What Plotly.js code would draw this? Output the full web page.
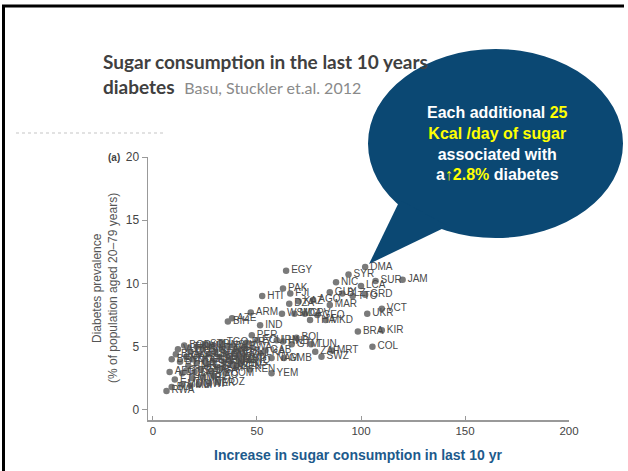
<!DOCTYPE html>
<html><head><meta charset="utf-8">
<script src="https://cdn.plot.ly/plotly-3.0.1.min.js"></script>
<style>html,body{margin:0;padding:0;background:#fff;}#chart{width:628px;height:471px;}</style>
</head><body><div id="chart"></div>
<script>
// Increase in sugar consumption (kcal/day, last 10 yr)
const sugarIncrease = [102,64,94,120,107,88,100,62.5,66,85,91,96,102,52.5,65.5,70,77,85,110,103,47,62,68,73,79,75.5,83,38,36,51.5,98.5,110,105.5,47.5,69,76,86,78,81,57,63,57,46.5,45,50,59.5,62.5,66.7,38.5,41,44,52,54,
6.5,9,10.5,8,14,18,22,27,31,14,20,28,33,40,9,11,13,15,16,17,18,19,21,21,22,23,24,25,26,27,28,29,30,31,32,33,34,35,36,37,38,39,41,42,12,16,24,19,29,35,25,33,43,17,44];
// Diabetes prevalence (% of population aged 20–79)
const diabetesPrev = [11.3,11.0,10.7,10.3,10.2,10.1,9.8,9.6,9.2,9.3,9.2,9.0,9.1,9.0,8.4,8.6,8.7,8.3,8.0,7.6,7.7,7.6,7.6,7.6,7.5,7.1,7.1,7.25,7.0,6.7,6.2,6.3,5.0,5.9,5.7,5.2,4.7,4.6,4.2,4.1,4.1,2.9,3.2,5.3,5.5,5.5,5.4,5.2,5.1,4.6,4.3,4.5,4.7,
1.5,1.8,2.4,3.0,2.0,1.9,2.0,2.1,2.2,2.9,3.0,3.1,3.3,3.4,4.0,4.4,3.8,5.1,4.2,3.5,4.6,4.0,5.0,3.7,4.4,3.2,4.8,4.0,3.6,4.4,5.1,3.9,4.6,3.4,4.2,4.8,3.8,4.4,5.0,4.0,3.6,4.5,4.1,3.7,4.8,3.1,2.6,2.5,2.7,2.9,5.2,5.3,3.9,4.9,4.9];
const countryCodes = ['DMA','EGY','SYR','JAM','SUR','NIC','LCA','PAK','FJI','GUY','BLZ','TTO','GRD','HTI','DZA','KAZ','AGO','MAR','VCT','UKR','ARM','WSM','MDA','CPV','GEO','THA','MKD','AZE','BIH','IND','BRA','KIR','COL','PER','BOL','TUN','MRT','ZAF','SWZ','NAM','GMB','YEM','KEN','PRY','ECU','IRN','HND','GTM','SLV','PHL','IDN','LKA','GAB',
'RWA','BDI','ETH','AFG','MDG','MLI','MWI','NER','MOZ','TCD','TZA','UGA','ERI','SEN','BEN','BFA','BTN','BGD','CAF','CMR','COD','COG','KHM','CIV','DJI','GHA','GIN','GNB','LSO','LBR','CHN','SLE','SLB','SOM','SDN','TJK','VNM','ZMB','ZWE','NGA','UZB','KGZ','MNG','PNG','VUT','TLS','NPL','MMR','LAO','COM','STP','TGO','GNQ','TKM','BWA'];
const xTicks = [0,50,100,150,200];
const yTicks = [0,5,10,15,20];

const W=628,H=471,L=148,R=59,T=157,B=51;
const PW=W-L-R, PH=H-T-B;
const px=x=>(x-L)/PW, py=y=>(H-B-y)/PH;

const trace = {
  type:'scatter', mode:'markers+text',
  x:sugarIncrease, y:diabetesPrev, text:countryCodes,
  textposition:'middle right',
  textfont:{family:'Liberation Sans, Arial, sans-serif', size:10, color:'#4a4a4a'},
  marker:{size:6.5, color:'#7a7a7a'},
  cliponaxis:false, hoverinfo:'none'
};

const ex0=368, ex1=623, ey0=49, ey1=238;
const layout = {
  width:W, height:H, margin:{l:L,r:R,t:T,b:B},
  paper_bgcolor:'#fff', plot_bgcolor:'#fff', showlegend:false,
  xaxis:{range:[-2.4,200], tickvals:xTicks, ticks:'inside', ticklen:4, tickcolor:'#999',
    showgrid:false, zeroline:false, showline:true, linecolor:'#999', linewidth:1.5,
    tickfont:{family:'Liberation Sans, Arial, sans-serif', size:11.5, color:'#444'}},
  yaxis:{range:[-0.8,20], tickvals:yTicks, ticks:'outside', ticklen:5, tickcolor:'#999',
    showgrid:false, zeroline:false, showline:true, linecolor:'#999', linewidth:1.5,
    tickfont:{family:'Liberation Sans, Arial, sans-serif', size:12, color:'#444'}},
  shapes:[
    {type:'path', xref:'paper', yref:'paper', layer:'above',
     path:`M ${px(3.5)} ${py(471)} L ${px(3.5)} ${py(6)} L ${px(624)} ${py(6)}`,
     line:{color:'#000', width:3}},
    {type:'line', xref:'paper', yref:'paper', x0:px(16), x1:px(163), y0:py(133), y1:py(133),
     line:{color:'#e2e2e2', width:2, dash:'dot'}},
    {type:'circle', xref:'paper', yref:'paper', layer:'above',
     x0:px(ex0), x1:px(ex1), y0:py(ey1), y1:py(ey0),
     fillcolor:'#0b4873', line:{width:0}},
    {type:'path', xref:'paper', yref:'paper', layer:'above',
     path:`M ${px(400)} ${py(200)} L ${px(369)} ${py(264)} L ${px(448)} ${py(226)} Z`,
     fillcolor:'#0b4873', line:{width:0}}
  ],
  annotations:[
    {xref:'paper', yref:'paper', x:px(101), y:py(62), xanchor:'left', yanchor:'middle', showarrow:false,
     text:'<b>Sugar consumption in the last 10 years</b>',
     font:{family:'Lato, Carlito, sans-serif', size:19, color:'#404040'}},
    {xref:'paper', yref:'paper', x:px(101), y:py(87), xanchor:'left', yanchor:'middle', showarrow:false,
     text:'<b>diabetes</b>  <span style="font-size:16px;color:#8a8a8a">Basu, Stuckler et.al. 2012</span>',
     font:{family:'Lato, Carlito, sans-serif', size:19, color:'#404040'}},
    {xref:'paper', yref:'paper', x:px(497), y:py(143), xanchor:'center', yanchor:'middle', showarrow:false,
     align:'center',
     text:'<b>Each additional <span style="color:#ffff00">25</span><br><span style="color:#ffff00">Kcal /day of sugar</span><br>associated with<br>a<span style="color:#ffff00">↑2.8%</span> diabetes</b>',
     font:{family:'Liberation Sans, Arial, sans-serif', size:16, color:'#ffffff'}},
    {xref:'paper', yref:'paper', x:px(114), y:py(157), xanchor:'center', yanchor:'middle', showarrow:false,
     text:'<b>(a)</b>', font:{family:'Liberation Sans, Arial, sans-serif', size:10, color:'#444'}},
    {xref:'paper', yref:'paper', x:px(97), y:py(288), xanchor:'center', yanchor:'middle', showarrow:false,
     textangle:-90, text:'Diabetes prevalence',
     font:{family:'Liberation Sans, Arial, sans-serif', size:12, color:'#555'}},
    {xref:'paper', yref:'paper', x:px(113), y:py(288), xanchor:'center', yanchor:'middle', showarrow:false,
     textangle:-90, text:'(% of population aged 20–79 years)',
     font:{family:'Liberation Sans, Arial, sans-serif', size:12, color:'#555'}},
    {xref:'paper', yref:'paper', x:px(358), y:py(455), xanchor:'center', yanchor:'middle', showarrow:false,
     text:'<b>Increase in sugar consumption in last 10 yr</b>',
     font:{family:'Liberation Sans, Arial, sans-serif', size:14, color:'#1d5a8c'}}
  ]
};
Plotly.newPlot('chart',[trace],layout,{displayModeBar:false, staticPlot:true});
</script>
</body></html>
